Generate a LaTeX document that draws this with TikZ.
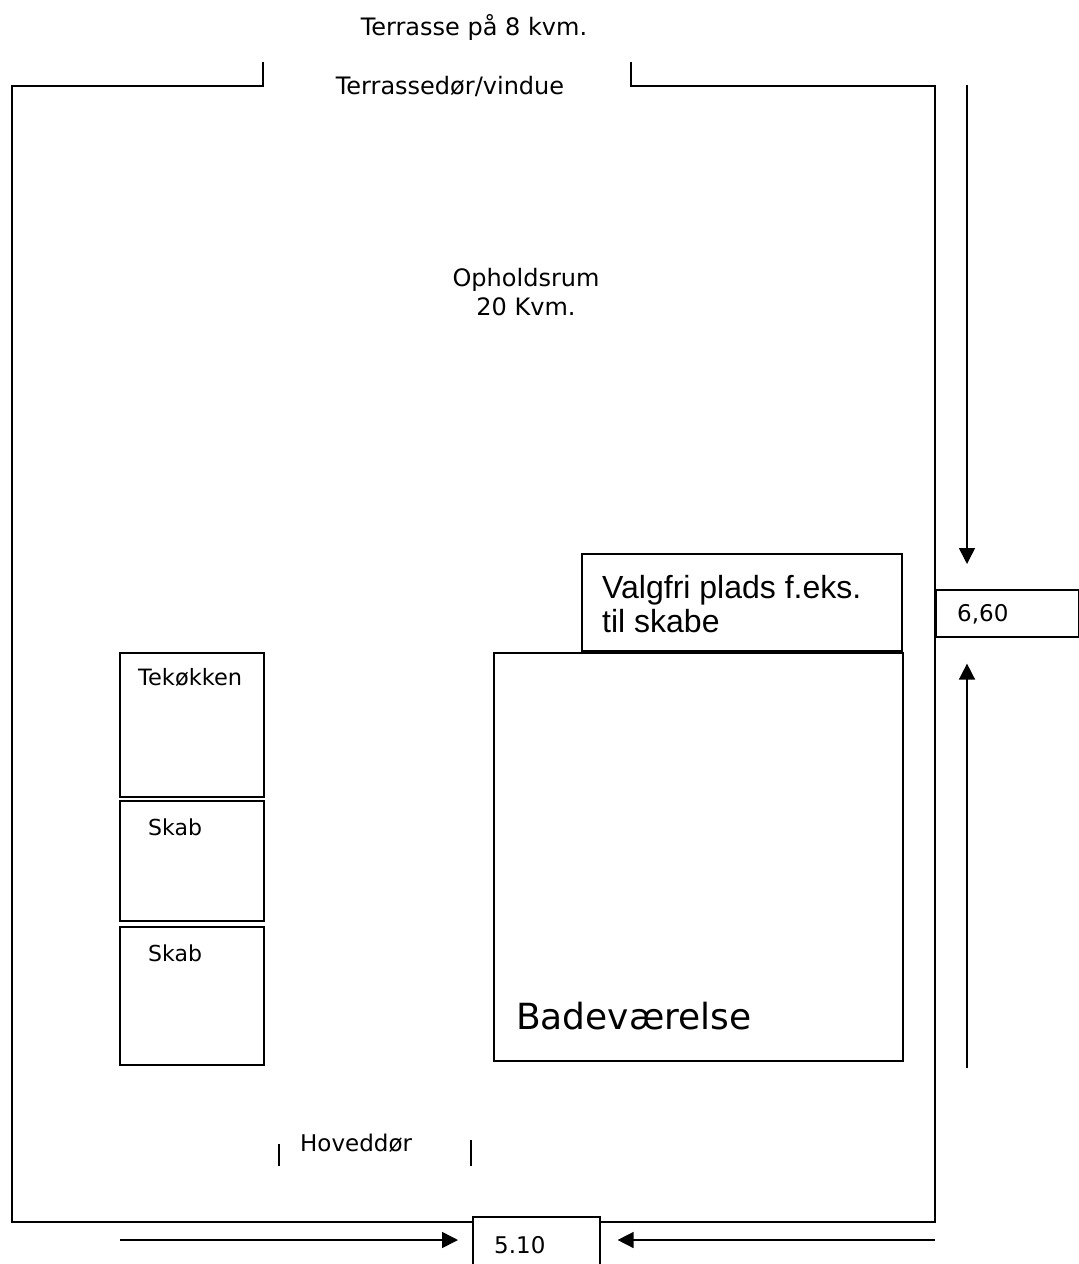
\documentclass[tikz,border=0pt]{standalone}
\usepackage{fontspec}
\setmainfont{DejaVu Sans}
\newfontfamily\arialf{Liberation Sans}
\usetikzlibrary{arrows.meta}
\tikzset{
  wall/.style={line width=1.6pt, line cap=rect},
  box/.style={draw, line width=1.6pt, rectangle, inner sep=0pt, anchor=north west},
  lbl/.style={inner sep=0pt, font=\fontsize{24}{28}\selectfont},
  small/.style={inner sep=0pt, font=\fontsize{23}{27}\selectfont},
  dim/.style={line width=1.6pt, -{Triangle[length=16pt,width=16pt]}},
}
\begin{document}
\begin{tikzpicture}[x=1pt,y=-1pt]
\useasboundingbox (0,0) rectangle (1079,1264);
% walls
\draw[wall] (263,63) -- (263,86) -- (12,86) -- (12,1222) -- (472,1222);
\draw[wall] (631,63) -- (631,86) -- (935,86) -- (935,1222) -- (600,1222);
% main door ticks
\draw[wall] (279,1145) -- (279,1165);
\draw[wall] (471,1141) -- (471,1165);
% texts
\node[lbl] (terrasse) at (474,27) {Terrasse på 8 kvm.};
\node[lbl] (tdoor) at (450,86) {Terrassedør/vindue};
\node[lbl, align=center, font=\fontsize{24}{29}\selectfont] (ophold) at (526,292) {Opholdsrum\\20 Kvm.};
\node[small, anchor=west] (hdoor) at (300,1143) {Hoveddør};
% boxes
\node[box, minimum width=144pt, minimum height=144pt] (tek) at (119,652) {};
\node[box, minimum width=144pt, minimum height=120pt] (skab1) at (119,800) {};
\node[box, minimum width=144pt, minimum height=138pt] (skab2) at (119,926) {};
\node[lbl, anchor=west, font=\fontsize{22.5}{26}\selectfont] (tekt) at (138,677) {Tekøkken};
\node[lbl, anchor=west, font=\fontsize{22}{26}\selectfont] (skab1t) at (148,827) {Skab};
\node[lbl, anchor=west, font=\fontsize{22}{26}\selectfont] (skab2t) at (148,953) {Skab};
\node[box, minimum width=409pt, minimum height=408pt] (bad) at (493,652) {};
\node[lbl, anchor=base west, font=\fontsize{36}{42}\selectfont] (badt) at (516,1029) {Badeværelse};
\node[box, minimum width=320pt, minimum height=97pt] (valg) at (581,553) {};
\node[lbl, anchor=base west, align=left, font=\arialf\fontsize{32}{34}\selectfont] (valgt) at (602,632) {Valgfri plads f.eks.\\til skabe};
% dimension boxes
\node[box, fill=white, minimum width=143pt, minimum height=47pt] (d660) at (935,589) {};
\node[small, anchor=west] (d660t) at (957,614) {6,60};
\node[box, fill=white, minimum width=127pt, minimum height=60pt] (d510) at (472,1216) {};
\node[small, anchor=west] (d510t) at (494,1245) {5.10};
% dimension arrows
\coordinate (rtop) at (967,85);
\coordinate (rbot) at (967,1068);
\coordinate (bl) at (120,1240);
\coordinate (br) at (935,1240);
\draw[dim, shorten >=25pt] (rtop) -- (rtop |- d660.north);
\draw[dim, shorten >=26pt] (rbot) -- (rbot |- d660.south);
\draw[dim, shorten >=14pt] (bl) -- (bl -| d510.west);
\draw[dim, shorten >=17pt] (br) -- (br -| d510.east);
\end{tikzpicture}
\end{document}
